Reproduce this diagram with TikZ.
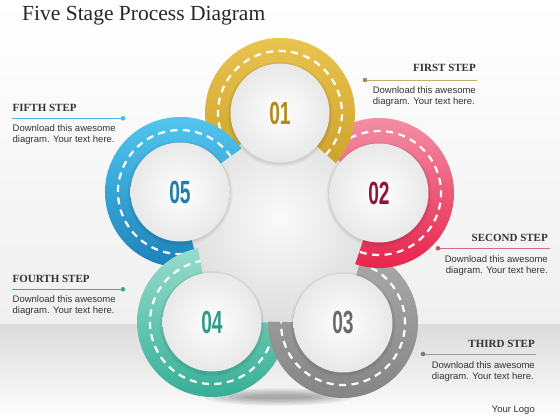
\documentclass[tikz,border=0pt]{standalone}
\usepackage{fontspec}
\setmainfont{Liberation Serif}
\newfontfamily\bodyfont{Liberation Sans}
\usetikzlibrary{calc}

\definecolor{ylwT}{HTML}{E9C44E}
\definecolor{ylwB}{HTML}{C99D27}
\definecolor{pnkT}{HTML}{F48FA6}
\definecolor{pnkB}{HTML}{E7234B}
\definecolor{gryT}{HTML}{ABABAB}
\definecolor{gryB}{HTML}{858585}
\definecolor{tealT}{HTML}{98DDCD}
\definecolor{tealB}{HTML}{36AF96}
\definecolor{bluT}{HTML}{52C6EF}
\definecolor{bluB}{HTML}{1C82BA}
\definecolor{numY}{HTML}{B38B12}
\definecolor{numP}{HTML}{8E1538}
\definecolor{numG}{HTML}{6B6B6B}
\definecolor{numT}{HTML}{2E9C88}
\definecolor{numB}{HTML}{1F7DAE}
\definecolor{txt}{HTML}{333333}
\definecolor{lnY}{HTML}{C2B06A}
\definecolor{lnP}{HTML}{D96C84}
\definecolor{lnG}{HTML}{9A9A9A}
\definecolor{lnT}{HTML}{3DAA95}
\definecolor{lnB}{HTML}{4FB9E3}

% #1 centre name, #2 start angle, #3 end angle, #4 top colour, #5 bottom colour
\newcommand\roadring[5]{%
  \begin{scope}
    \clip ([shift={(#1)}]#2:75) arc[start angle=#2,end angle=#3,radius=75]
      -- ([shift={(#1)}]#3:47) arc[start angle=#3,end angle=#2,radius=47] -- cycle;
    \shade[top color=#4,bottom color=#5] ([shift={(#1)}]-76,-76) rectangle ([shift={(#1)}]76,76);
  \end{scope}
  \draw[roaddash] ([shift={(#1)}]#2:62) arc[start angle=#2,end angle=#3,radius=62];
}

\tikzset{
  roaddash/.style={white, line width=2.2pt, dash pattern=on 7pt off 5.5pt},
  num/.style={font=\bodyfont\bfseries\fontsize{32}{32}\selectfont, xscale=0.6, transform shape, inner sep=0},
  head/.style={font=\bfseries\fontsize{11}{13}\selectfont, text=txt, inner sep=0},
  body/.style={font=\bodyfont\fontsize{9.5}{11.5}\selectfont, text=txt, inner sep=0},
  rule/.style={line width=0.8pt},
}

\begin{document}
\begin{tikzpicture}[x=1pt,y=1pt]
\useasboundingbox (0,0) rectangle (560,420);
\shade[top color=white,bottom color=black!6] (0,95) rectangle (560,420);
\shade[top color=black!14,bottom color=white] (0,0) rectangle (560,95);

\coordinate (c1) at (280,307);
\coordinate (c2) at (379,227);
\coordinate (c3) at (343,97);
\coordinate (c4) at (212,98);
\coordinate (c5) at (180,228);

% ground shadow
\foreach \k in {1,...,6}
  \fill[black,opacity=0.06] (278,23) ellipse[x radius={82-8*\k}, y radius={10-1.3*\k}];

% central area
\shade[inner color=black!2, outer color=black!13] (c1)--(c2)--(c3)--(c4)--(c5)--cycle;

% rings
\roadring{c5}{-76.2}{-324.7}{bluT}{bluB}
\roadring{c4}{-0.4}{-259.2}{tealT}{tealB}
\roadring{c3}{74.5}{-181}{gryT}{gryB}
\roadring{c2}{141.1}{-108.5}{pnkT}{pnkB}
\roadring{c1}{218.3}{-42}{ylwT}{ylwB}
\begin{scope}
  \clip (180,240) rectangle (270,310);
  \roadring{c5}{-76.2}{-324.7}{bluT}{bluB}
\end{scope}

% white discs
\foreach \c in {c1,c2,c3,c4,c5}{
  \fill[black,opacity=0.04] ([yshift=-1.5]\c) circle (52.5);
  \fill[black,opacity=0.06] ([yshift=-1]\c) circle (51);
  \shade[inner color=white, outer color=black!9] (\c) circle (49.5);
}

\node[num, text=numY] (n1) at (c1) {01};
\node[num, text=numP] (n2) at (c2) {02};
\node[num, text=numG] (n3) at (c3) {03};
\node[num, text=numT] (n4) at (c4) {04};
\node[num, text=numB] (n5) at (c5) {05};

% title
\node[anchor=base west, inner sep=0, font=\fontsize{21.5}{24}\selectfont, text=black!85] (title) at (22,399) {Five Stage Process Diagram};

% FIRST STEP
\node[head, anchor=base east] (h1) at (476,348) {FIRST STEP};
\coordinate (r1a) at (365,340); \coordinate (r1b) at (477,340);
\draw[rule, lnY] (r1a) -- (r1b); \fill[lnY!80!black] (r1a) circle (2.3);
\node[body, anchor=base east] (b1a) at (476,326.5) {Download this awesome};
\node[body, anchor=base east] (b1b) at (475,315) {diagram. Your text here.};

% SECOND STEP
\node[head, anchor=base east] (h2) at (548,178) {SECOND STEP};
\coordinate (r2a) at (438,171.7); \coordinate (r2b) at (550,171.7);
\draw[rule, lnP] (r2a) -- (r2b); \fill[lnP!85!black] (r2a) circle (2.3);
\node[body, anchor=base east] (b2a) at (548,157.5) {Download this awesome};
\node[body, anchor=base east] (b2b) at (548,146) {diagram. Your text here.};

% THIRD STEP
\node[head, anchor=base east] (h3) at (535,72.5) {THIRD STEP};
\coordinate (r3a) at (423,66); \coordinate (r3b) at (536,66);
\draw[rule, lnG] (r3a) -- (r3b); \fill[lnG!80!black] (r3a) circle (2.3);
\node[body, anchor=base east] (b3a) at (535,51.5) {Download this awesome};
\node[body, anchor=base east] (b3b) at (534,40) {diagram. Your text here.};

% FOURTH STEP
\node[head, anchor=base west] (h4) at (12.5,137.5) {FOURTH STEP};
\coordinate (r4a) at (12,130.7); \coordinate (r4b) at (123,130.7);
\draw[rule, lnT] (r4a) -- (r4b); \fill[lnT] (r4b) circle (2.3);
\node[body, anchor=base west] (b4a) at (12.5,117.5) {Download this awesome};
\node[body, anchor=base west] (b4b) at (12.5,106) {diagram. Your text here.};

% FIFTH STEP
\node[head, anchor=base west] (h5) at (12.5,308) {FIFTH STEP};
\coordinate (r5a) at (12,301.7); \coordinate (r5b) at (123,301.7);
\draw[rule, lnB] (r5a) -- (r5b); \fill[lnB] (r5b) circle (2.3);
\node[body, anchor=base west] (b5a) at (12.5,288.5) {Download this awesome};
\node[body, anchor=base west] (b5b) at (12.5,277) {diagram. Your text here.};

\node[body, anchor=base east] (logo) at (535,7.5) {Your Logo};
\end{tikzpicture}
\end{document}
